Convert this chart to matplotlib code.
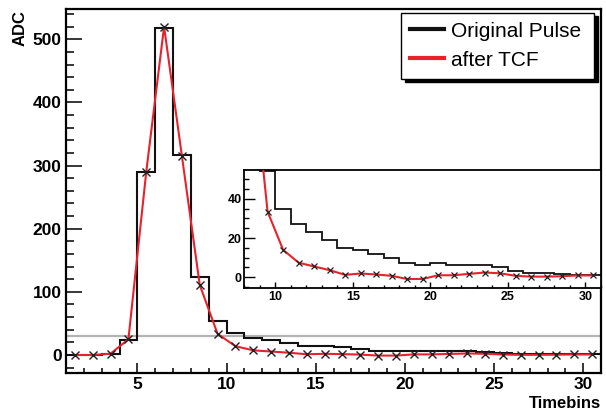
import numpy as np
import matplotlib
matplotlib.use("Agg")
import matplotlib.pyplot as plt
from matplotlib.ticker import MultipleLocator

plt.rcParams['font.family'] = ['Liberation Sans', 'DejaVu Sans']

# original pulse, one value per timebin (edges 1..31)
bin_edges = np.arange(1, 32)
orig_pulse = [0, 0, 1, 24, 290, 518, 316, 124, 54, 35, 27, 23, 19, 15, 14,
              12, 10, 7, 6, 7, 6, 6, 6, 5, 3, 2.2, 1.9, 1.4, 1.2, 1.2]

# pulse after tail cancellation filter, at bin centres
bin_centres = np.arange(1.5, 31, 1.0)
after_tcf = [0, 0, 2, 25, 290, 520, 315, 111, 33.5, 14, 7.4, 5.5, 3.6, 1.2, 1.9,
             1.4, 0.7, -0.9, -0.9, 1.0, 1.0, 1.7, 2.4, 2.0, 0.7, 0.3, 0.3, 0.5, 0.9, 0.9]

threshold = 30

W, H = 606, 412
fig = plt.figure(figsize=(W/100, H/100), dpi=100)

def fx(px):
    return px / W

def fy(py):
    return 1 - py / H

red = '#e8222c'

# main pad
ax = fig.add_axes([fx(66), fy(372.5), fx(601) - fx(66), fy(9) - fy(372.5)])
ax.axhline(threshold, color='#b4b4b4', lw=1.6, zorder=1)
ax.stairs(orig_pulse, bin_edges, baseline=None, color='#111111', lw=1.5, zorder=2,
          label='Original Pulse')
ax.plot(bin_centres, after_tcf, '-', color=red, lw=1.5, zorder=3, label='after TCF')
ax.plot(bin_centres, after_tcf, 'x', color='#222222', ms=6, mew=1.0, zorder=4)
ax.set_xlim(1, 31)
ax.set_ylim(-27.7, 548)
ax.xaxis.set_major_locator(MultipleLocator(5))
ax.xaxis.set_minor_locator(MultipleLocator(1))
ax.yaxis.set_major_locator(MultipleLocator(100))
ax.yaxis.set_minor_locator(MultipleLocator(20))
ax.tick_params(axis='x', which='major', direction='in', length=7.2, width=1.1, pad=3.5,
               labelsize=12.5)
ax.tick_params(axis='x', which='minor', direction='in', length=3.6, width=1.1)
ax.tick_params(axis='y', which='major', direction='in', length=11.5, width=1.1, pad=3,
               labelsize=12.5)
ax.tick_params(axis='y', which='minor', direction='in', length=5.8, width=1.1)
for lab in ax.get_xticklabels() + ax.get_yticklabels():
    lab.set_fontweight('bold')
for s in ax.spines.values():
    s.set_linewidth(1.6)

fig.text(fx(20), fy(10), 'ADC', rotation=90, ha='center', va='top',
         fontsize=12, fontweight='bold')
fig.text(fx(601), fy(408), 'Timebins', ha='right', va='baseline',
         fontsize=12, fontweight='bold')

leg = ax.legend(loc='upper left', mode='expand',
                bbox_to_anchor=(fx(401), fy(13) - 0.001, fx(594) - fx(401), 0.001),
                bbox_transform=fig.transFigure, borderaxespad=0,
                fontsize=15, handlelength=1.65, handletextpad=0.34,
                labelspacing=0.48, borderpad=0.42, fancybox=False,
                shadow={'ox': 3.2, 'oy': -2.2, 'color': 'black', 'alpha': 1})
leg.get_frame().set_edgecolor('black')
leg.get_frame().set_linewidth(1.0)
for h in leg.legend_handles:
    h.set_linewidth(3)

# inset zoom on the tail
ins = fig.add_axes([fx(244.3), fy(288), fx(601) - fx(244.3), fy(170) - fy(288)])
ins.stairs(orig_pulse, bin_edges, baseline=None, color='#111111', lw=1.3, zorder=2)
ins.plot(bin_centres, after_tcf, '-', color=red, lw=1.5, zorder=3)
ins.plot(bin_centres, after_tcf, 'x', color='#222222', ms=5, mew=0.9, zorder=4)
ins.set_xlim(8, 31)
ins.set_ylim(-5.5, 54.7)
ins.xaxis.set_major_locator(MultipleLocator(5))
ins.xaxis.set_minor_locator(MultipleLocator(1))
ins.yaxis.set_major_locator(MultipleLocator(20))
ins.yaxis.set_minor_locator(MultipleLocator(5))
ins.tick_params(axis='x', which='major', direction='in', length=4.5, width=1.0, pad=2,
                labelsize=9)
ins.tick_params(axis='x', which='minor', direction='in', length=2.5, width=1.0)
ins.tick_params(axis='y', which='major', direction='in', length=8, width=1.0, pad=2,
                labelsize=9)
ins.tick_params(axis='y', which='minor', direction='in', length=3.6, width=1.0)
for lab in ins.get_xticklabels() + ins.get_yticklabels():
    lab.set_fontweight('bold')
for s in ins.spines.values():
    s.set_linewidth(1.3)

fig.savefig('out.png', dpi=100)
